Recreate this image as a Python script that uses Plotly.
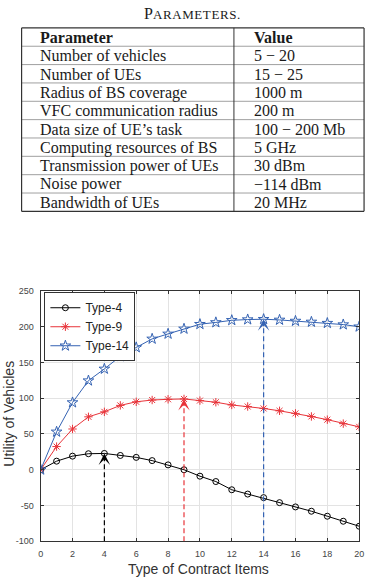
import numpy as np
import plotly.graph_objects as go

# ---------------- data ----------------
table_title = "PARAMETERS."
table_header = ["Parameter", "Value"]
param_names = ["Number of vehicles", "Number of UEs", "Radius of BS coverage",
               "VFC communication radius", "Data size of UE\u2019s task",
               "Computing resources of BS", "Transmission power of UEs",
               "Noise power", "Bandwidth of UEs"]
param_values = ["5 \u2212 20", "15 \u2212 25", "1000 m", "200 m", "100 \u2212 200 Mb",
                "5 GHz", "30 dBm", "\u2212114 dBm", "20 MHz"]

contract_items = list(range(0, 21))
type4 = [0, 12, 19, 22.4, 22.8, 20, 17.3, 12.8, 6.8, 0, -9, -16.5, -28, -34, -39,
         -46, -52, -58, -65, -72, -79]
type9 = [0, 32.4, 57, 74, 81, 90, 95, 97.5, 98.5, 99, 96.7, 94.4, 90.6, 88.4, 85.7,
         82.4, 78.8, 74.5, 70, 64.5, 60]
type14 = [0, 53, 94, 124.6, 141, 158.5, 171, 183, 190, 197, 203.5, 206, 209, 210, 210.5,
          209.5, 208, 206.7, 205, 203, 200]
series_names = ["Type-4", "Type-9", "Type-14"]
x_ticks = list(range(0, 21, 2))
y_ticks = list(range(-100, 251, 50))
x_ticklabels = [str(v) for v in x_ticks]
y_ticklabels = [str(v) for v in y_ticks]

# ---------------- layout helpers ----------------
W, H = 372, 578
def px(x):
    return x / W
def py(y):
    return 1 - y / H

PLOT_L, PLOT_R, PLOT_T, PLOT_B = 38.5, 364, 291, 545.7

colors = ["#000000", "#E8343A", "#3563B3"]
symbols = ["circle-open", "asterisk-open", "star-open"]
sizes = [6, 7, 8]
all_series = [type4, type9, type14]

fig = go.Figure()
for name, ys, c, s, sz in zip(series_names, all_series, colors, symbols, sizes):
    fig.add_trace(go.Scatter(
        x=contract_items, y=ys, name=name, mode="lines+markers",
        line=dict(color=c, width=1),
        marker=dict(symbol=s, size=sz, color=c, line=dict(color=c, width=1)),
    ))

shapes = []
annotations = []

# dashed lines + arrowheads at each curve's maximum
for ys, c in zip(all_series, colors):
    i = int(np.argmax(ys))
    xp, yp = contract_items[i], ys[i]
    shapes.append(dict(type="line", xref="x", yref="y", x0=xp, x1=xp,
                       y0=y_ticks[0], y1=yp - 6,
                       line=dict(color=c, width=1.2, dash="5px,3px")))
    annotations.append(dict(x=xp, y=yp, xref="x", yref="y", ax=xp, ay=yp - 12,
                            axref="x", ayref="y", text="", showarrow=True,
                            arrowhead=3, arrowsize=1.6, arrowwidth=1.2,
                            arrowcolor=c))

# ---------------- table ----------------
TB_L, TB_R, TB_MID = 19, 369, 236
TB_T = 23.3
ROW_H = 18.67
n_rows = len(param_names) + 1
TB_B = TB_T + n_rows * ROW_H
serif = "Liberation Serif, Times New Roman, serif"

for k in range(n_rows + 1):
    yk = TB_T + k * ROW_H
    outer = k in (0, n_rows)
    shapes.append(dict(type="line", xref="paper", yref="paper",
                       x0=px(TB_L), x1=px(TB_R), y0=py(yk), y1=py(yk),
                       line=dict(color="#333333" if outer else "#777777",
                                 width=1.2 if outer else 0.7)))
for xv, w in [(TB_L, 1.2), (TB_MID, 1.0), (TB_R, 1.2)]:
    shapes.append(dict(type="line", xref="paper", yref="paper",
                       x0=px(xv), x1=px(xv), y0=py(TB_T), y1=py(TB_B),
                       line=dict(color="#333333", width=w)))

rows = [(f"<b>{table_header[0]}</b>", f"<b>{table_header[1]}</b>")] + list(zip(param_names, param_values))
for k, (a, b) in enumerate(rows):
    yc = TB_T + (k + 0.5) * ROW_H
    for txt, xl in [(a, 36), (b, 254)]:
        annotations.append(dict(x=px(xl), y=py(yc + 0.5), xref="paper", yref="paper",
                                xanchor="left", yanchor="middle", text=txt,
                                showarrow=False,
                                font=dict(family=serif, size=16, color="#1a1a1a")))

annotations.append(dict(x=px(194), y=py(8.5), xref="paper", yref="paper",
                        xanchor="center", yanchor="middle",
                        text=table_title[0] + "<span style='font-size:13px; letter-spacing:0.6px'>" + table_title[1:] + "</span>",
                        showarrow=False,
                        font=dict(family=serif, size=16, color="#1a1a1a")))

# axis titles
sans = "Liberation Sans, Arial, Helvetica, sans-serif"
annotations.append(dict(x=px(200), y=py(574), xref="paper", yref="paper",
                        xanchor="center", yanchor="middle", text="Type of Contract Items",
                        showarrow=False, font=dict(family=sans, size=14, color="#333333")))
annotations.append(dict(x=px(6), y=py(416), xref="paper", yref="paper",
                        xanchor="center", yanchor="middle", text="Utility of Vehicles",
                        textangle=-90, showarrow=False,
                        font=dict(family=sans, size=14, color="#333333")))

axis_common = dict(showgrid=True, gridcolor="#e3e3e3", gridwidth=1,
                   showline=True, linecolor="#333333", linewidth=1, mirror="ticks",
                   ticks="inside", ticklen=3, tickcolor="#333333", zeroline=False,
                   ticklabelstandoff=4,
                   tickfont=dict(family=sans, size=9, color="#444444"))

fig.update_layout(
    width=W, height=H, margin=dict(l=0, r=0, t=0, b=0),
    paper_bgcolor="white", plot_bgcolor="white",
    xaxis=dict(domain=[px(PLOT_L), px(PLOT_R)], range=[0, 20], tickvals=x_ticks,
               ticktext=x_ticklabels, **axis_common),
    yaxis=dict(domain=[py(PLOT_B), py(PLOT_T)], range=[-100, 250], tickvals=y_ticks,
               ticktext=y_ticklabels, **axis_common),
    legend=dict(x=px(42.3), y=py(292.3), xanchor="left", yanchor="top",
                bgcolor="white", bordercolor="#333333", borderwidth=1,
                font=dict(family=sans, size=12, color="#222222"),
                tracegroupgap=0, itemwidth=30),
    shapes=shapes, annotations=annotations, showlegend=True,
)

fig.write_html("out.html")
